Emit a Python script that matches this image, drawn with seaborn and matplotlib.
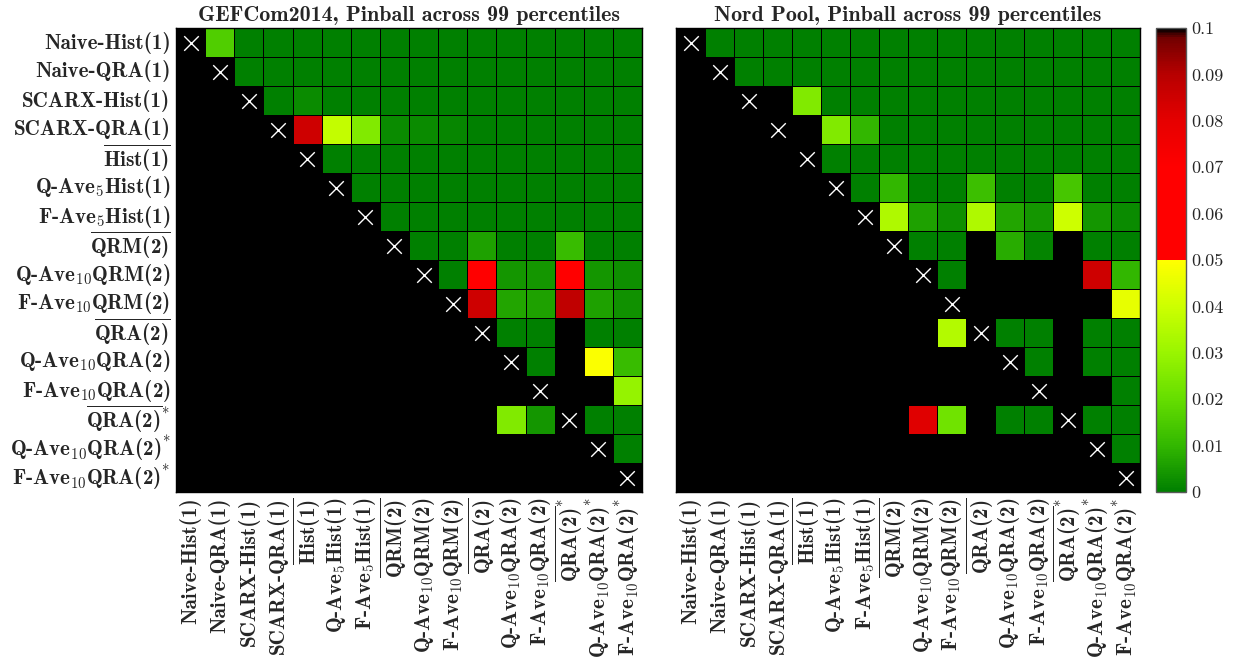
import numpy as np
import pandas as pd
import matplotlib
matplotlib.use("Agg")
import matplotlib.pyplot as plt
import seaborn as sns
from matplotlib.colors import ListedColormap

# Model names (rows = first model, columns = second model of each DM test)
models = [
    r"Naive-Hist(1)",
    r"Naive-QRA(1)",
    r"SCARX-Hist(1)",
    r"SCARX-QRA(1)",
    r"$\overline{\mathbf{Hist(1)}}$",
    r"Q-Ave$_{5}$Hist(1)",
    r"F-Ave$_{5}$Hist(1)",
    r"$\overline{\mathbf{QRM(2)}}$",
    r"Q-Ave$_{10}$QRM(2)",
    r"F-Ave$_{10}$QRM(2)",
    r"$\overline{\mathbf{QRA(2)}}$",
    r"Q-Ave$_{10}$QRA(2)",
    r"F-Ave$_{10}$QRA(2)",
    r"$\overline{\mathbf{QRA(2)}}^{*}$",
    r"Q-Ave$_{10}$QRA(2)$^{*}$",
    r"F-Ave$_{10}$QRA(2)$^{*}$",
]

nan = np.nan
# p-values of the Diebold-Mariano tests, GEFCom2014 (1.0 = not significant)
pv_gefcom = [
    [nan, .016, 0, 0, 0, 0, 0, 0, 0, 0, 0, 0, 0, 0, 0, 0],
    [1, nan, 0, 0, 0, 0, 0, 0, 0, 0, 0, 0, 0, 0, 0, 0],
    [1, 1, nan, 0, .002, 0, 0, 0, 0, 0, 0, 0, 0, 0, 0, 0],
    [1, 1, 1, nan, .085, .038, .025, .002, .002, .0015, 0, 0, 0, 0, 0, 0],
    [1, 1, 1, 1, nan, 0, 0, 0, 0, 0, 0, 0, 0, 0, 0, 0],
    [1, 1, 1, 1, 1, nan, 0, 0, 0, 0, 0, 0, 0, 0, 0, 0],
    [1, 1, 1, 1, 1, 1, nan, 0, 0, 0, 0, 0, 0, 0, 0, 0],
    [1, 1, 1, 1, 1, 1, 1, nan, 0, 0, .006, 0, 0, .011, 0, 0],
    [1, 1, 1, 1, 1, 1, 1, 1, nan, 0, .06, .004, .004, .06, .004, .003],
    [1, 1, 1, 1, 1, 1, 1, 1, 1, nan, .085, .007, .006, .088, .006, .0035],
    [1, 1, 1, 1, 1, 1, 1, 1, 1, 1, nan, 0, 0, 1, 0, 0],
    [1, 1, 1, 1, 1, 1, 1, 1, 1, 1, 1, nan, 0, 1, .049, .011],
    [1, 1, 1, 1, 1, 1, 1, 1, 1, 1, 1, 1, nan, 1, 1, .029],
    [1, 1, 1, 1, 1, 1, 1, 1, 1, 1, 1, .025, .004, nan, 0, 0],
    [1, 1, 1, 1, 1, 1, 1, 1, 1, 1, 1, 1, 1, 1, nan, 0],
    [1, 1, 1, 1, 1, 1, 1, 1, 1, 1, 1, 1, 1, 1, 1, nan],
]

# p-values of the Diebold-Mariano tests, Nord Pool
pv_nordpool = [
    [nan, 0, 0, 0, 0, 0, 0, 0, 0, 0, 0, 0, 0, 0, 0, 0],
    [1, nan, 0, 0, 0, 0, 0, 0, 0, 0, 0, 0, 0, 0, 0, 0],
    [1, 1, nan, 1, .025, 0, 0, 0, 0, 0, 0, 0, 0, 0, 0, 0],
    [1, 1, 1, nan, 1, .025, .01, 0, 0, 0, 0, 0, 0, 0, 0, 0],
    [1, 1, 1, 1, nan, 0, 0, 0, 0, 0, 0, 0, 0, 0, 0, 0],
    [1, 1, 1, 1, 1, nan, 0, .01, 0, 0, .012, 0, 0, .014, 0, 0],
    [1, 1, 1, 1, 1, 1, nan, .034, .006, .003, .034, .007, .004, .04, .004, .002],
    [1, 1, 1, 1, 1, 1, 1, nan, 0, 0, 1, .008, .001, 1, 0, 0],
    [1, 1, 1, 1, 1, 1, 1, 1, nan, 0, 1, 1, 1, 1, .085, .01],
    [1, 1, 1, 1, 1, 1, 1, 1, 1, nan, 1, 1, 1, 1, 1, .045],
    [1, 1, 1, 1, 1, 1, 1, 1, 1, .035, nan, 0, 0, 1, 0, 0],
    [1, 1, 1, 1, 1, 1, 1, 1, 1, 1, 1, nan, 0, 1, 0, 0],
    [1, 1, 1, 1, 1, 1, 1, 1, 1, 1, 1, 1, nan, 1, 1, 0],
    [1, 1, 1, 1, 1, 1, 1, 1, .081, .022, 1, 0, 0, nan, 0, 0],
    [1, 1, 1, 1, 1, 1, 1, 1, 1, 1, 1, 1, 1, 1, nan, 0],
    [1, 1, 1, 1, 1, 1, 1, 1, 1, 1, 1, 1, 1, 1, 1, nan],
]

titles = ["GEFCom2014, Pinball across 99 percentiles",
          "Nord Pool, Pinball across 99 percentiles"]
cbar_ticks = [0, 0.01, 0.02, 0.03, 0.04, 0.05, 0.06, 0.07, 0.08, 0.09, 0.1]
cbar_ticklabels = ["0", "0.01", "0.02", "0.03", "0.04", "0.05",
                   "0.06", "0.07", "0.08", "0.09", "0.1"]

sns.set_theme(style="white")
plt.rcParams["mathtext.fontset"] = "custom"
plt.rcParams["mathtext.rm"] = "cmr10"
plt.rcParams["mathtext.bf"] = "cmb10"
plt.rcParams["mathtext.it"] = "cmmi10"
plt.rcParams["axes.unicode_minus"] = False
plt.rcParams["font.family"] = ["cmr10", "DejaVu Sans"]


def ramp(nodes, n):
    pos = np.array([p for p, _ in nodes])
    cols = np.array([c for _, c in nodes], dtype=float)
    t = np.linspace(0, 1, n)
    return np.column_stack([np.interp(t, pos, cols[:, k]) for k in range(3)])


# green -> yellow below 0.05, red -> black above
low = ramp([(0, (0, .5, 0)), (.2, (.2, .72, 0)), (.4, (.4, .87, 0)),
            (.6, (.6, .96, 0)), (.8, (.8, 1, 0)), (1, (1, 1, 0))], 128)
high = ramp([(0, (1, 0, 0)), (.4, (1, 0, 0)), (.6, (.9, 0, 0)),
             (.8, (.72, 0, 0)), (.96, (.45, 0, 0)), (1, (0, 0, 0))], 128)
cmap = ListedColormap(np.vstack([low, high]))
cmap.set_over("black")
cmap.set_bad("black")

W, H = 1239, 666
fig = plt.figure(figsize=(W / 100, H / 100), dpi=100)


def box(x0, y0, x1, y1):
    return [x0 / W, 1 - y1 / H, (x1 - x0) / W, (y1 - y0) / H]


ax1 = fig.add_axes(box(176, 28, 642, 492))
ax2 = fig.add_axes(box(676, 28, 1140, 492))
cax = fig.add_axes(box(1156, 28, 1186, 492))

LABEL_SIZE = 15.2

for k, (ax, data, title) in enumerate(zip([ax1, ax2], [pv_gefcom, pv_nordpool], titles)):
    df = pd.DataFrame(data, index=models, columns=models)
    sns.heatmap(df, ax=ax, cmap=cmap, vmin=0, vmax=0.1, cbar=(k == 1),
                cbar_ax=cax if k == 1 else None,
                linewidths=0.6, linecolor="black",
                xticklabels=True, yticklabels=True)
    ax.set_facecolor("black")
    n = len(models)
    idx = np.arange(n) + 0.5
    ax.scatter(idx, idx, marker="x", s=110, c="white", linewidths=1.0, zorder=5)
    ax.set_xticks(idx)
    ax.set_xticklabels(models, rotation=90, fontfamily="cmb10", fontsize=LABEL_SIZE,
                       va="top", ha="center")
    ax.set_yticks(idx)
    if k == 0:
        ax.set_yticklabels(models, rotation=0, fontfamily="cmb10", fontsize=LABEL_SIZE)
    else:
        ax.set_yticklabels([])
    ax.tick_params(direction="in", length=3, width=0.6, color="0.3",
                   top=True, right=True, bottom=True, left=True, pad=4)
    for sp in ax.spines.values():
        sp.set_visible(True)
        sp.set_color("black")
        sp.set_linewidth(1.0)
    ax.set_title(title, fontfamily="cmb10", fontsize=15.8, pad=5)
    ax.set_xlabel("")
    ax.set_ylabel("")

cbar = ax2.collections[0].colorbar
cbar.set_ticks(cbar_ticks)
cbar.set_ticklabels(cbar_ticklabels)
cbar.ax.tick_params(direction="in", length=4, width=0.8, color="0.2",
                    labelsize=13, pad=4)
for lab in cbar.ax.get_yticklabels():
    lab.set_fontfamily("cmr10")
cbar.outline.set_visible(True)
cbar.outline.set_edgecolor("0.35")
cbar.outline.set_linewidth(1.0)

fig.savefig("out.png", dpi=100)
